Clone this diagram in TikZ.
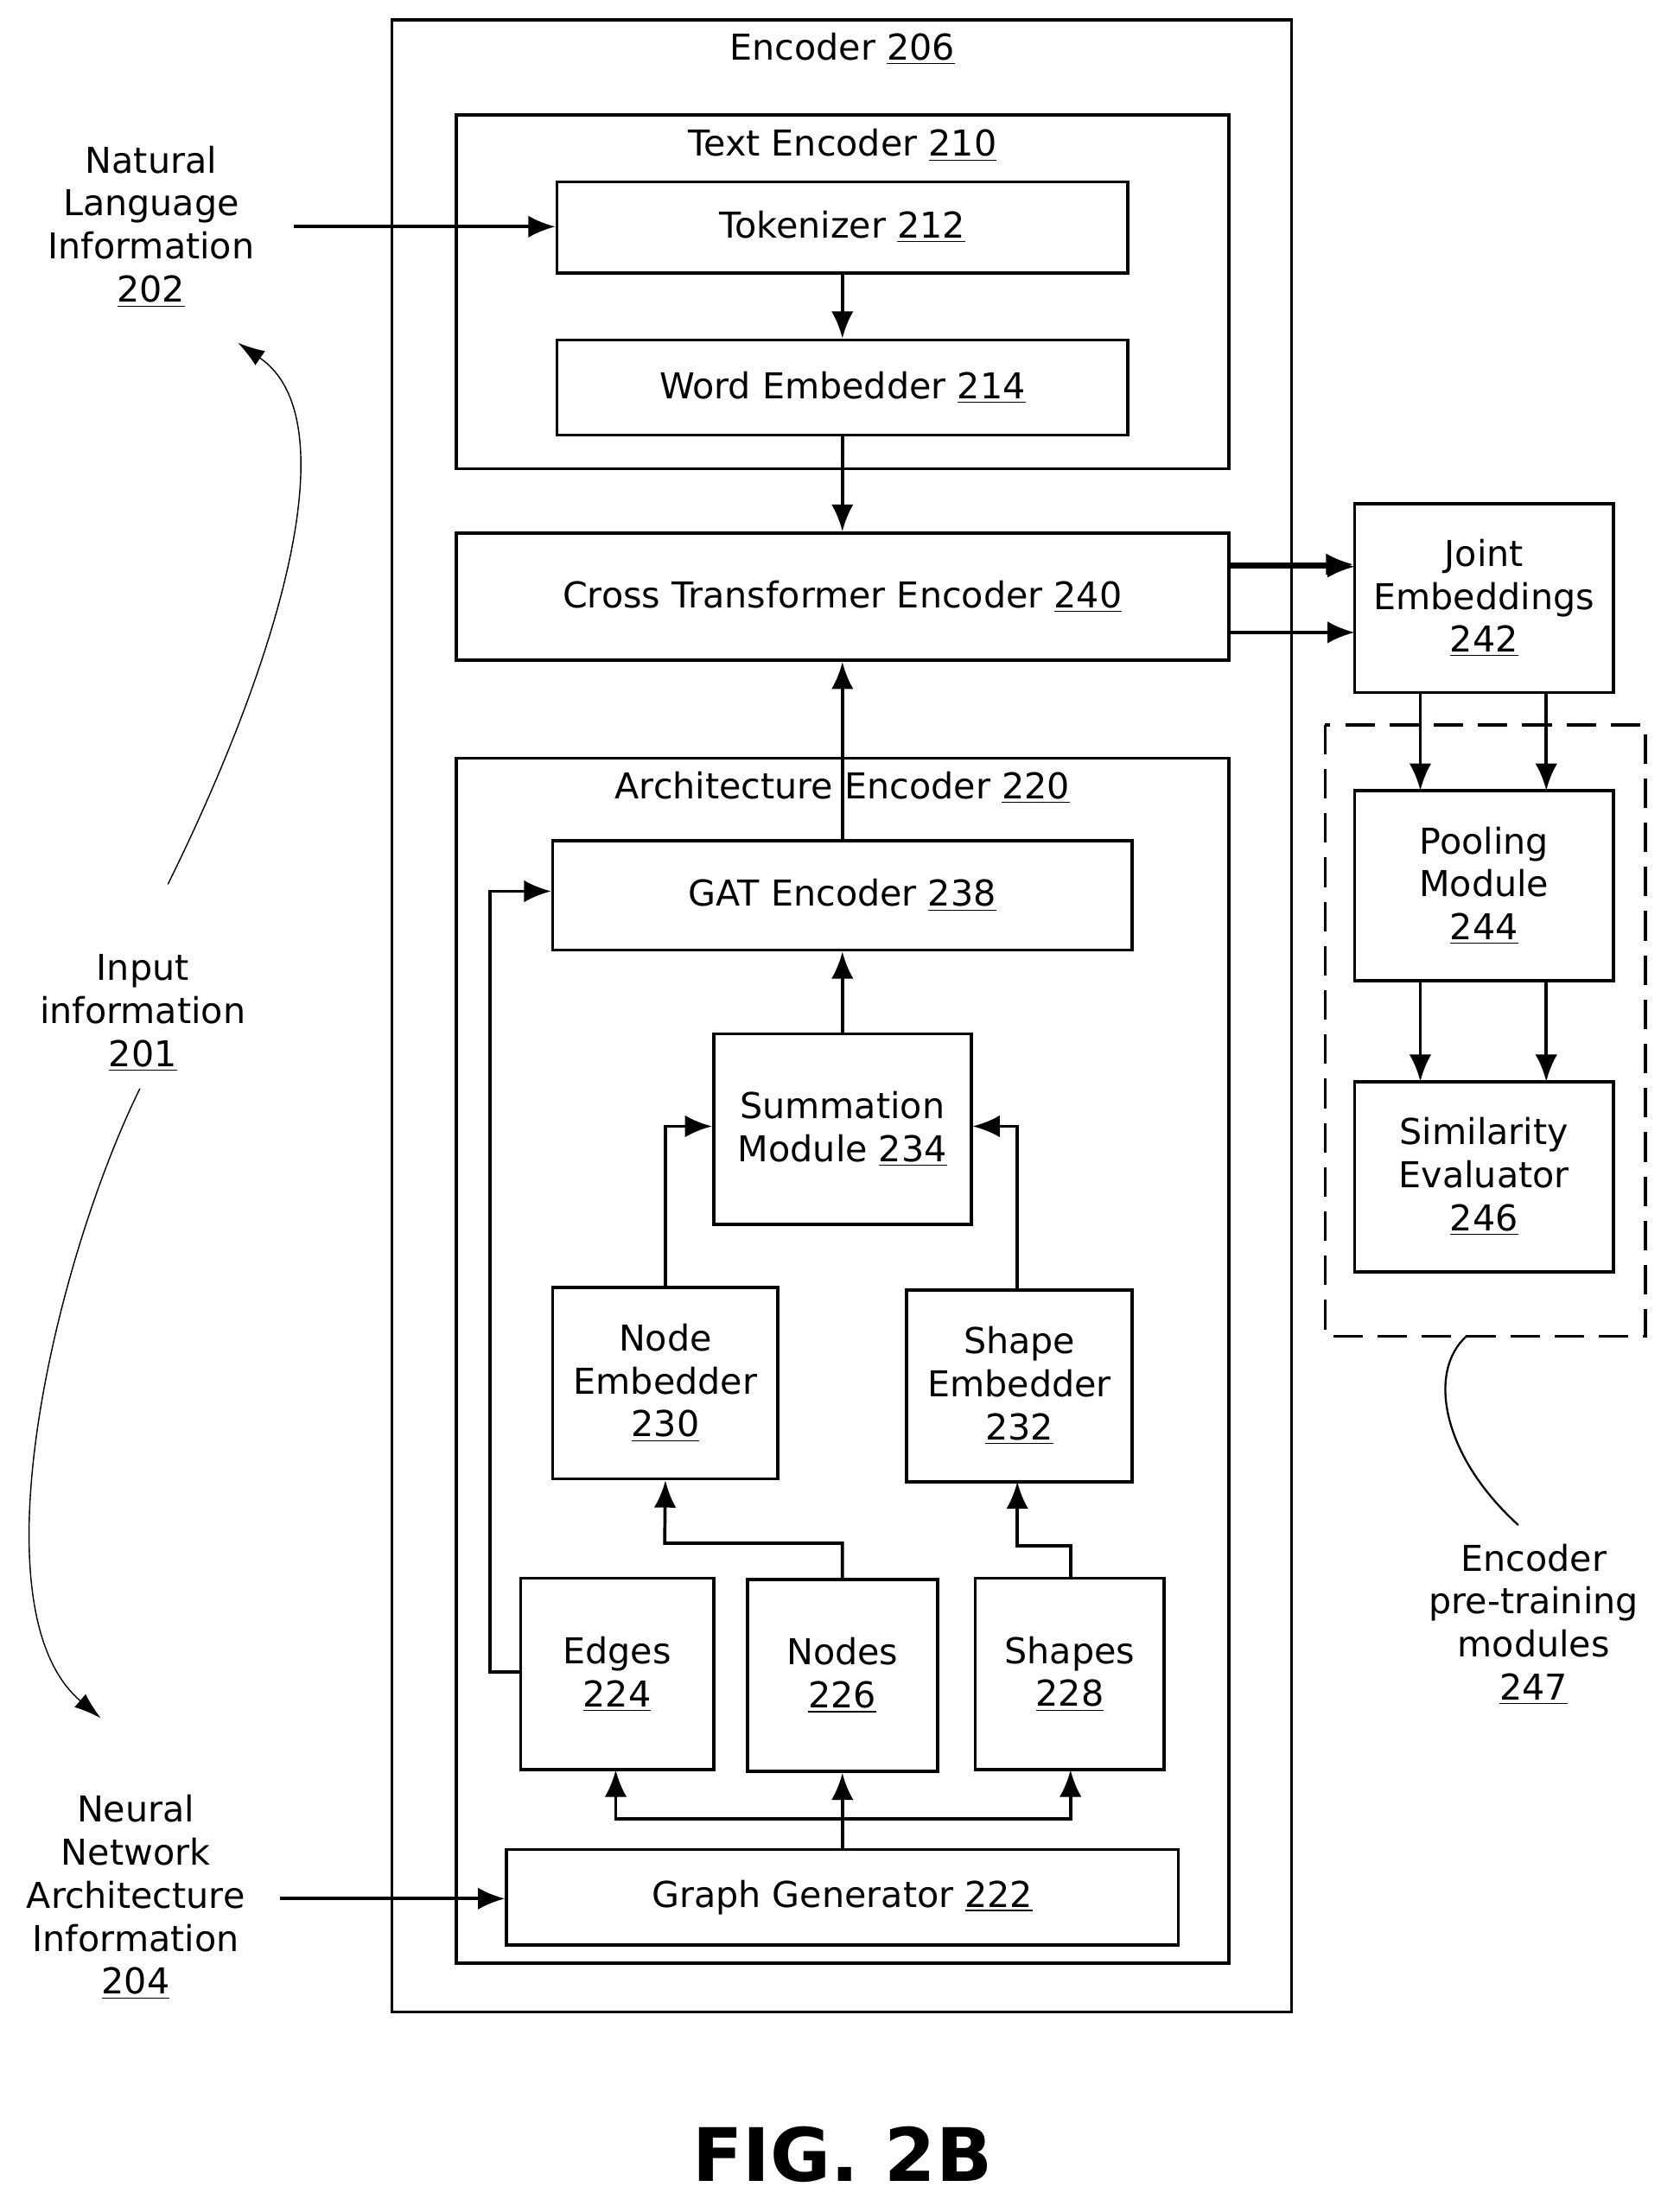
\documentclass[tikz,border=0pt]{standalone}
\usepackage{fontspec}
\setmainfont{DejaVu Sans}
\usetikzlibrary{arrows.meta}
\newcommand\blk[6]{\node[blk, minimum width={(#4-#2)*0.02cm}, minimum height={(#5-#3)*0.02cm}]
  (#1) at ({(#2+#4)/2},{(#3+#5)/2}) {#6};}
\tikzset{
  blk/.style={draw, line width=1.3pt, align=center, inner sep=0pt},
  txt/.style={align=center, inner sep=0pt},
  arr/.style={line width=1.3pt, -{Latex[length=11pt,width=9pt]}},
  thin arr/.style={line width=0.5pt, -{Latex[length=11pt,width=7pt]}},
}
\begin{document}
\begin{tikzpicture}[x=0.02cm, y=-0.02cm, font=\fontsize{14.5}{17.5}\selectfont]
\useasboundingbox (0,0) rectangle (1200,1581);
% containers
\blk{enc}{280}{14}{923}{1438}{}
\node[txt] (encl) at (602,35) {Encoder \underline{206}};
\blk{tenc}{326}{82}{878}{335}{}
\node[txt] (tencl) at (602,104) {Text Encoder \underline{210}};
\blk{aenc}{326}{542}{878}{1403}{}
\node[txt, fill=white] (aencl) at (602,563) {Architecture Encoder \underline{220}};
% blocks
\blk{tok}{398}{130}{806}{195}{Tokenizer \underline{212}}
\blk{word}{398}{243}{806}{311}{Word Embedder \underline{214}}
\blk{cross}{326}{381}{878}{472}{Cross Transformer Encoder \underline{240}}
\blk{gat}{395}{601}{809}{679}{GAT Encoder \underline{238}}
\blk{sum}{510}{739}{694}{875}{Summation\\Module \underline{234}}
\blk{nemb}{395}{920}{556}{1057}{Node\\Embedder\\\underline{230}}
\blk{semb}{648}{922}{809}{1059}{Shape\\Embedder\\\underline{232}}
\blk{edges}{372}{1128}{510}{1265}{Edges\\\underline{224}}
\blk{nodes}{534}{1129}{670}{1266}{Nodes\\\underline{226}}
\blk{shapes}{697}{1128}{832}{1265}{Shapes\\\underline{228}}
\blk{graph}{362}{1322}{842}{1390}{Graph Generator \underline{222}}
\blk{joint}{968}{360}{1153}{495}{Joint\\Embeddings\\\underline{242}}
\blk{pool}{968}{565}{1153}{701}{Pooling\\Module\\\underline{244}}
\blk{sim}{968}{773}{1153}{909}{Similarity\\Evaluator\\\underline{246}}
\draw[line width=1.3pt, dash pattern=on 12pt off 6pt] (947,518) rectangle (1176,955);
% side labels
\node[txt] (nl) at (108,162) {Natural\\Language\\Information\\\underline{202}};
\node[txt] (inp) at (102,724) {Input\\information\\\underline{201}};
\node[txt] (nn) at (97,1356) {Neural\\Network\\Architecture\\Information\\\underline{204}};
\node[txt] (pre) at (1096,1161) {Encoder\\pre-training\\modules\\\underline{247}};
\node[font=\bfseries\fontsize{30}{36}\selectfont] (fig) at (602,1540) {FIG. 2B};
% connectors
\coordinate (nlr) at (210,162);
\draw[arr] (nlr) -- (tok.west |- nlr);
\draw[arr] (tok) -- (word);
\draw[arr] (word) -- (cross);
\draw[arr] (gat) -- (cross);
\draw[arr] ([yshift=-0.047cm*10]cross.north east) -- ([yshift=-0.047cm*10]joint.west |- cross.north east);
\draw[arr] (878,405) -- (968,405);
\draw[arr] (878,452) -- (968,452);
\foreach \x in {1015,1105} {
  \draw[arr] (\x,495) -- (\x,565);
  \draw[arr] (\x,701) -- (\x,773);
}
\draw[arr] (sum) -- (sum |- gat.south) ;
\draw[arr] (edges.west |- 0,1195) -- (350,1195) -- (350,637) -- (gat.west |- 0,637);
\draw[arr] (nemb.north) |- (sum.west |- 0,805);
\draw[arr] (727,922) |- (sum.east |- 0,805);
\draw[arr] (nodes.north) -- (602,1103) -- (475,1103) -- (nemb.south);
\draw[arr] (765,1128) -- (765,1105) -- (727,1105) -- (727,1059);
\draw[arr] (graph.north) -- (nodes.south);
\draw[arr] (602,1300) -- (440,1300) -- (440,1265);
\draw[arr] (602,1300) -- (765,1300) -- (765,1265);
\coordinate (nnr) at (200,1357);
\draw[arr] (nnr) -- (graph.west |- nnr);
% curved pointers
\draw[thin arr] (120,632) .. controls (200,470) and (250,300) .. (170,245);
\draw[thin arr] (100,778) .. controls (40,900) and (-20,1150) .. (72,1228);
\draw[line width=0.8pt] (1085,1090) .. controls (1030,1040) and (1020,980) .. (1048,955);
\end{tikzpicture}
\end{document}
